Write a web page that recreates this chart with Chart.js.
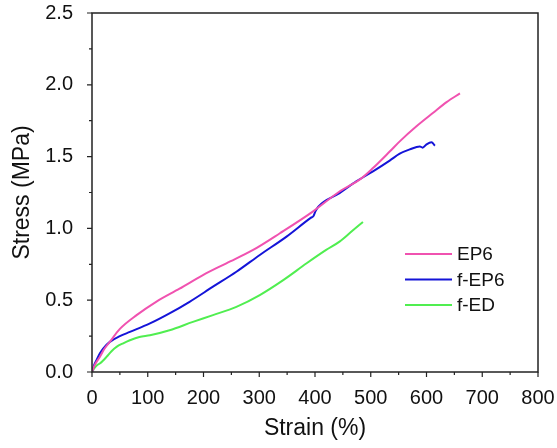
<!DOCTYPE html>
<html>
<head>
<meta charset="utf-8">
<script src="https://cdn.jsdelivr.net/npm/chart.js@4"></script>
<style>
html,body{margin:0;padding:0;background:#fff;}
#wrap{width:557px;height:448px;position:relative;}
</style>
</head>
<body>
<div id="wrap"><canvas id="c" width="557" height="448"></canvas></div>
<script>
const seriesNames = ['EP6', 'f-EP6', 'f-ED'];
const strainEP6 = [0, 5, 14, 22, 32, 50, 80, 115, 157, 199, 241, 289, 337, 396, 444, 482, 504, 534, 552, 582, 612, 636, 660];
const stressEP6 = [0, 0.05, 0.105, 0.16, 0.21, 0.30, 0.396, 0.489, 0.58, 0.675, 0.757, 0.85, 0.966, 1.117, 1.257, 1.345, 1.42, 1.535, 1.606, 1.711, 1.805, 1.879, 1.94];
const strainFEP6 = [0, 3, 8, 14, 20, 32, 50, 68, 104, 139, 175, 217, 259, 301, 349, 393, 397, 401, 406, 444, 474, 504, 534, 552, 570, 588, 593, 600, 609, 615];
const stressFEP6 = [0, 0.04, 0.082, 0.128, 0.163, 0.21, 0.25, 0.279, 0.338, 0.408, 0.489, 0.594, 0.698, 0.815, 0.943, 1.075, 1.085, 1.12, 1.152, 1.246, 1.327, 1.397, 1.472, 1.52, 1.55, 1.571, 1.562, 1.585, 1.60, 1.576];
const strainFED = [0, 5, 10, 14, 20, 26, 35, 44, 56, 68, 85, 104, 139, 181, 217, 259, 301, 343, 385, 420, 444, 466, 486];
const stressFED = [0, 0.03, 0.05, 0.059, 0.08, 0.105, 0.145, 0.175, 0.2, 0.221, 0.244, 0.256, 0.291, 0.349, 0.396, 0.454, 0.536, 0.64, 0.757, 0.85, 0.908, 0.98, 1.045];
const xTicks = [0, 100, 200, 300, 400, 500, 600, 700, 800];
const yTicks = [0.0, 0.5, 1.0, 1.5, 2.0, 2.5];
const colors = ['#f052b0', '#1414d8', '#50ee50'];

function pts(xs, ys){ return xs.map((x,i)=>({x:x, y:ys[i]})); }

const FONT = "'Liberation Sans', Arial, sans-serif";
const AX = '#222';

const boxPlugin = {
  id: 'boxPlugin',
  afterDraw(chart){
    const {ctx, chartArea:a, scales:{x, y}} = chart;
    ctx.save();
    ctx.strokeStyle = AX;
    ctx.lineWidth = 1.5;
    ctx.strokeRect(a.left, a.top, a.right - a.left, a.bottom - a.top);
    ctx.lineWidth = 1.2;
    ctx.beginPath();
    for (let v = 0; v <= 800; v += 50) {
      const px = x.getPixelForValue(v);
      const len = (v % 100 === 0) ? 5 : 3;
      ctx.moveTo(px, a.bottom); ctx.lineTo(px, a.bottom + len);
    }
    for (let v = 0; v <= 2.5001; v += 0.25) {
      const py = y.getPixelForValue(v);
      const major = Math.abs(v*2 - Math.round(v*2)) < 1e-6;
      const len = major ? 5 : 3;
      ctx.moveTo(a.left, py); ctx.lineTo(a.left - len, py);
    }
    ctx.stroke();
    ctx.font = '19px ' + FONT;
    ctx.textBaseline = 'middle';
    ctx.textAlign = 'left';
    chart.data.datasets.forEach((ds, i) => {
      const ly = 254 + i * 25.5;
      ctx.strokeStyle = ds.borderColor;
      ctx.lineWidth = 2;
      ctx.beginPath(); ctx.moveTo(405, ly); ctx.lineTo(452, ly); ctx.stroke();
      ctx.fillStyle = '#111';
      ctx.fillText(ds.label, 457, ly + 1);
    });
    ctx.restore();
  }
};

new Chart(document.getElementById('c'), {
  type: 'line',
  data: {
    datasets: [
      {label: seriesNames[0], data: pts(strainEP6, stressEP6), borderColor: colors[0]},
      {label: seriesNames[1], data: pts(strainFEP6, stressFEP6), borderColor: colors[1]},
      {label: seriesNames[2], data: pts(strainFED, stressFED), borderColor: colors[2]}
    ].map(d => Object.assign(d, {borderWidth: 2, pointRadius: 0, fill: false, cubicInterpolationMode: 'monotone'}))
  },
  options: {
    responsive: false,
    animation: false,
    devicePixelRatio: 1,
    layout: {padding: {top: 13, right: 19, left: 0, bottom: 0}},
    plugins: {legend: {display: false}, tooltip: {enabled: false}},
    scales: {
      x: {
        type: 'linear', min: 0, max: 800,
        afterFit(s){ s.height = 76; s.paddingLeft = 0; s.paddingRight = 0; },
        afterBuildTicks(s){ s.ticks = xTicks.map(v => ({value: v})); },
        grid: {display: false},
        border: {display: false},
        ticks: {font: {family: FONT, size: 20}, color: '#111', padding: 6, maxRotation: 0, autoSkip: false},
        title: {display: true, text: 'Strain (%)', font: {family: FONT, size: 23}, color: '#111', padding: {top: 0, bottom: 6}}
      },
      y: {
        type: 'linear', min: 0, max: 2.5,
        afterFit(s){ s.width = 92; s.paddingTop = 0; s.paddingBottom = 0; },
        afterBuildTicks(s){ s.ticks = yTicks.map(v => ({value: v})); },
        grid: {display: false},
        border: {display: false},
        ticks: {font: {family: FONT, size: 20}, color: '#111', padding: 11, callback: v => Number(v).toFixed(1)},
        title: {display: true, text: 'Stress (MPa)', font: {family: FONT, size: 23}, color: '#111', padding: {top: 9, bottom: 0}}
      }
    }
  },
  plugins: [boxPlugin]
});
</script>
</body>
</html>
